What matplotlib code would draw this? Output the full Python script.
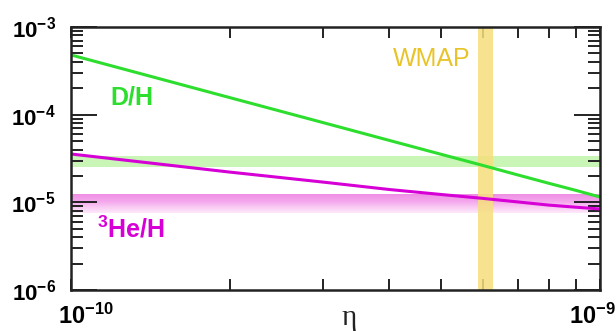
import numpy as np
import matplotlib
matplotlib.use("Agg")
import matplotlib.pyplot as plt
from matplotlib.colors import LinearSegmentedColormap
from matplotlib.ticker import LogLocator, NullFormatter, FixedLocator, FixedFormatter
from matplotlib.transforms import ScaledTranslation

plt.rcParams['font.family'] = ['Liberation Sans', 'DejaVu Sans']
plt.rcParams['mathtext.fontset'] = 'custom'
plt.rcParams['mathtext.rm'] = 'Liberation Sans'
plt.rcParams['mathtext.bf'] = 'Liberation Sans:bold'

# ---- data ----
eta = [1e-10, 2e-10, 3e-10, 4e-10, 5e-10, 6e-10, 7e-10, 8e-10, 9e-10, 1e-9]
dh = [4.8e-4, 1.56e-4, 8.1e-5, 5.08e-5, 3.54e-5, 2.64e-5, 2.05e-5, 1.65e-5, 1.37e-5, 1.15e-5]
he3 = [3.56e-5, 2.21e-5, 1.70e-5, 1.40e-5, 1.23e-5, 1.11e-5, 1.01e-5, 9.3e-6, 8.8e-6, 8.4e-6]
dh_obs = (2.53e-5, 3.38e-5)
he_obs = (7.6e-6, 1.28e-5)
wmap = (5.88e-10, 6.28e-10)
xlim = (1e-10, 1e-9)
ylim = (1e-6, 1e-3)
ytick_vals = [1e-6, 1e-5, 1e-4, 1e-3]
ytick_labels = [r'$\mathbf{10^{-6}}$', r'$\mathbf{10^{-5}}$', r'$\mathbf{10^{-4}}$', r'$\mathbf{10^{-3}}$']
xtick_vals = [1e-10, 1e-9]
xtick_labels = [r'$\mathbf{10^{-10}}$', r'$\mathbf{10^{-9}}$']

fig = plt.figure(figsize=(6.16, 3.31), dpi=100)
ax = fig.add_axes([71/616, 41/331, 529/616, 263/331])
ax.set_xscale('log')
ax.set_yscale('log')
ax.set_xlim(*xlim)
ax.set_ylim(*ylim)

green = '#2ede2e'
magenta = '#d600d6'

# observed bands
ax.axhspan(dh_obs[0], dh_obs[1], color='#c9f5b6', lw=0, zorder=1)
cmap = LinearSegmentedColormap.from_list('pk', ['#fde6fa', '#f4a6ec', '#ee8ae4'])
grad = np.linspace(0, 1, 100).reshape(-1, 1)
ax.imshow(grad, extent=(xlim[0], xlim[1], he_obs[0], he_obs[1]), origin='lower',
          aspect='auto', cmap=cmap, zorder=1, interpolation='bilinear')
ax.axvspan(wmap[0], wmap[1], color='#f6df7c', alpha=0.85, lw=0, zorder=2)

ax.plot(eta, dh, color=green, lw=2.2, zorder=3, solid_capstyle='butt')
ax.plot(eta, he3, color=magenta, lw=2.2, zorder=3, solid_capstyle='butt')

ax.set_xlim(*xlim)
ax.set_ylim(*ylim)

# ticks
ax.yaxis.set_major_locator(FixedLocator(ytick_vals))
ax.yaxis.set_major_formatter(FixedFormatter(ytick_labels))
ax.yaxis.set_minor_locator(LogLocator(base=10, subs=np.arange(2, 10)))
ax.yaxis.set_minor_formatter(NullFormatter())
ax.xaxis.set_major_locator(FixedLocator(xtick_vals))
ax.xaxis.set_major_formatter(FixedFormatter(xtick_labels))
ax.xaxis.set_minor_locator(LogLocator(base=10, subs=np.arange(2, 10)))
ax.xaxis.set_minor_formatter(NullFormatter())

ax.tick_params(axis='both', which='both', direction='in', top=True, right=True,
               color='#222222', width=1.4)
ax.tick_params(axis='y', which='major', length=19, pad=11, labelsize=16)
ax.tick_params(axis='y', which='minor', length=8.5)
ax.tick_params(axis='x', which='major', length=8, pad=10, labelsize=17)
ax.tick_params(axis='x', which='minor', length=8)
for s in ax.spines.values():
    s.set_linewidth(1.8)
    s.set_color('#222222')
    s.set_zorder(5)

# shift x tick labels like the reference
fig.canvas.draw()
xlabs = ax.get_xticklabels()
shifts = [15, -8]
for lab, dx in zip(xlabs, shifts):
    lab.set_transform(lab.get_transform() + ScaledTranslation(dx / 100, 0, fig.dpi_scale_trans))

# labels
ax.text(1.185e-10, 1.55e-4, 'D/H', color=green, fontsize=18, fontweight='bold',
        va='center', ha='left')
ax.text(1.12e-10, 4.9e-6, r'$^{\mathbf{3}}$He/H', color=magenta, fontsize=18,
        fontweight='bold', va='center', ha='left')
ax.text(5.68e-10, 4.35e-4, 'WMAP', color='#e8c42a', fontsize=18, va='center', ha='right')

fig.text(349/616, 1 - 318/331, 'η', fontsize=21, family='Liberation Serif',
         ha='center', va='center', color='#222222')

fig.savefig('out.png', dpi=100)
